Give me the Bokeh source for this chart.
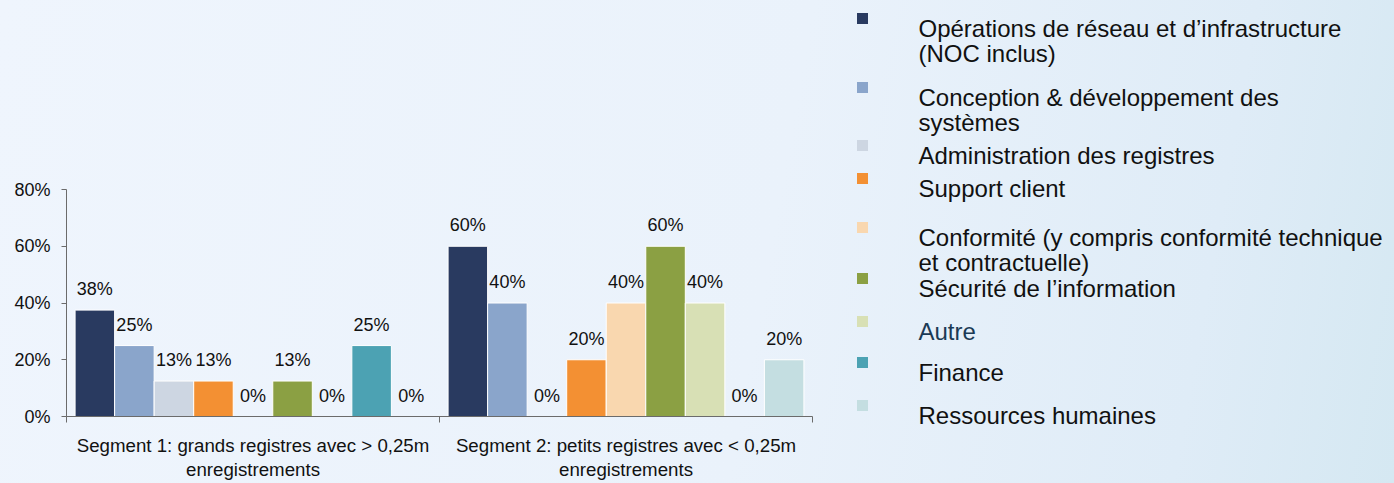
from bokeh.plotting import figure
from bokeh.models import (ColumnDataSource, Range1d, LinearAxis,
                          FixedTicker, PrintfTickFormatter)
from bokeh.transform import dodge
from bokeh.layouts import row
from bokeh.core.properties import value
from bokeh.embed import file_html
from bokeh.resources import INLINE

# ---------------- data ----------------
categories = [
    "Segment 1: grands registres avec > 0,25m\nenregistrements",
    "Segment 2: petits registres avec < 0,25m\nenregistrements",
]
series = [
    "Opérations de réseau et d’infrastructure\n(NOC inclus)",
    "Conception & développement des\nsystèmes",
    "Administration des registres",
    "Support client",
    "Conformité (y compris conformité technique\net contractuelle)",
    "Sécurité de l’information",
    "Autre",
    "Finance",
    "Ressources humaines",
]
seg1_values = [37.5, 25, 12.5, 12.5, 0, 12.5, 0, 25, 0]
seg2_values = [60, 40, 0, 20, 40, 60, 40, 0, 20]
y_ticks = [0, 20, 40, 60, 80]

# ---------------- styles ----------------
colors = ["#293A60", "#8AA5CB", "#CDD6E2", "#F39033", "#F9D7AF",
          "#8BA043", "#D8E0B5", "#4CA2B3", "#C4DEE1"]
legend_text_colors = ["#111111"] * 6 + ["#1B3A55"] + ["#111111"] * 2
FONT = "Liberation Sans"
TEXT = "#111111"
AXIS = "#6B6B6B"
BAR_W = 0.106

ncat = len(categories)
centers = [k + 0.5 for k in range(ncat)]

p = figure(width=848, height=483,
           x_range=Range1d(0, ncat), y_range=Range1d(0, 80),
           x_axis_location=None, y_axis_location=None,
           output_backend="svg", toolbar_location=None,
           min_border_left=66, min_border_right=36,
           min_border_top=189, min_border_bottom=65)
p.frame_align = False
p.xgrid.visible = False
p.ygrid.visible = False
p.outline_line_color = None
p.background_fill_color = None
p.border_fill_color = None

yaxis = LinearAxis(ticker=FixedTicker(ticks=y_ticks),
                   formatter=PrintfTickFormatter(format="%d%%"),
                   axis_line_color=AXIS, major_tick_line_color=AXIS,
                   major_tick_out=5, major_tick_in=0,
                   minor_tick_line_color=None,
                   major_label_standoff=11,
                   major_label_text_font=FONT,
                   major_label_text_font_size="18px",
                   major_label_text_color=TEXT)
p.add_layout(yaxis, "left")

# category boundary ticks (no labels)
edge_axis = LinearAxis(ticker=FixedTicker(ticks=list(range(ncat + 1))),
                       axis_line_color=AXIS, major_tick_line_color=AXIS,
                       major_tick_out=6, major_tick_in=0,
                       minor_tick_line_color=None,
                       major_label_standoff=0,
                       major_label_overrides={k: "" for k in range(ncat + 1)},
                       major_label_text_font_size="0px")
p.add_layout(edge_axis, "below")

# category labels at group centres (no ticks)
cat_axis = LinearAxis(ticker=FixedTicker(ticks=centers),
                      major_label_overrides=dict(zip(centers, categories)),
                      axis_line_color=None, major_tick_line_color=None,
                      minor_tick_line_color=None,
                      major_tick_out=0, major_tick_in=0,
                      major_label_standoff=12,
                      major_label_text_font=FONT,
                      major_label_text_font_size="18.7px",
                      major_label_text_line_height=1.18,
                      major_label_text_color=TEXT)
p.add_layout(cat_axis, "below")

n = len(series)
for i, (name, color) in enumerate(zip(series, colors)):
    vals = [seg1_values[i], seg2_values[i]]
    src = ColumnDataSource(dict(pos=centers, val=vals,
                                lab=[f"{int(v + 0.5)}%" for v in vals]))
    off = (i - (n - 1) / 2) * BAR_W
    p.vbar(x=dodge("pos", off), top="val", width=BAR_W,
           source=src, fill_color=color, line_color="white", line_width=1)
    p.text(x=dodge("pos", off), y="val", text="lab",
           source=src, text_align="center", text_baseline="middle",
           y_offset=-21, text_font=value(FONT), text_font_size="18px",
           text_color=TEXT)

# ---------------- legend (separate panel) ----------------
LW, LH = 546, 483
leg = figure(width=LW, height=LH, x_range=Range1d(0, LW), y_range=Range1d(LH, 0),
             x_axis_location=None, y_axis_location=None,
             output_backend="svg", toolbar_location=None, min_border=0)
leg.frame_align = False
leg.xgrid.visible = False
leg.ygrid.visible = False
leg.outline_line_color = None
leg.background_fill_color = None
leg.border_fill_color = None

first_baselines = [28, 97, 155, 188, 237, 288, 331, 372, 415]
LINE_GAP = 25
sq = ColumnDataSource(dict(x=[14] * n, y=[b - 10 for b in first_baselines], c=colors))
leg.rect(x="x", y="y", width=11, height=11, fill_color="c", line_color=None, source=sq)

tx, ty, tt, tc = [], [], [], []
for name, base, col in zip(series, first_baselines, legend_text_colors):
    for j, line in enumerate(name.split("\n")):
        tx.append(70)
        ty.append(base + j * LINE_GAP)
        tt.append(line)
        tc.append(col)
leg.text(x="x", y="y", text="t", text_color="c",
         source=ColumnDataSource(dict(x=tx, y=ty, t=tt, c=tc)),
         text_align="left", text_baseline="alphabetic",
         text_font=value(FONT), text_font_size="24px")

layout = row(p, leg, styles={
    "background": "linear-gradient(100deg, #EFF5FD 0%, #EAF2FB 55%, #DFECF7 85%, #D5E8F2 100%)"})

open("out.html", "w").write(file_html(layout, INLINE))
